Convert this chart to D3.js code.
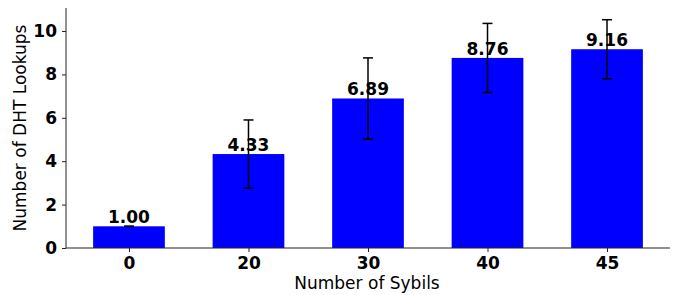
<!DOCTYPE html>
<head>
<meta charset="utf-8">
<style>
  body { margin: 0; background: #fff; }
  text { font-family: "DejaVu Sans", sans-serif; }
</style>
</head>
<body>
<script src="https://d3js.org/d3.v7.min.js"></script>
<script>
// chart data
var sybils = ["0", "20", "30", "40", "45"];
var lookups = [1.00, 4.33, 6.89, 8.76, 9.16];
var errors = [0.0, 1.57, 1.87, 1.59, 1.36];
var yTicks = [0, 2, 4, 6, 8, 10];

var W = 684, H = 295;
var margin = {top: 8, right: 14, bottom: 47, left: 66};
var width = W - margin.left - margin.right,
    height = H - margin.top - margin.bottom;

var svg = d3.select("body").append("svg")
    .attr("width", W).attr("height", H)
  .append("g")
    .attr("transform", "translate(" + margin.left + "," + margin.top + ")");

// x: positions 0..n-1, bar width 0.6, matplotlib-like margins
var idx = d3.range(sybils.length);
var x = d3.scaleLinear().domain([-0.527, 4.527]).range([0, width]);
var y = d3.scaleLinear().domain([0, 11.06]).range([height, 0]);
var bw = x(0.6) - x(0);

// bars
svg.selectAll(".bar").data(idx).enter().append("rect")
    .attr("x", function(i) { return x(i - 0.3); })
    .attr("y", function(i) { return y(lookups[i]); })
    .attr("width", bw)
    .attr("height", function(i) { return y(0) - y(lookups[i]); })
    .attr("fill", "#0000ff");

// error bars
var eb = svg.selectAll(".err").data(idx).enter().append("g")
    .attr("stroke", "#000").attr("stroke-width", 1.5);
eb.append("line")
    .attr("x1", function(i) { return x(i); }).attr("x2", function(i) { return x(i); })
    .attr("y1", function(i) { return y(lookups[i] - errors[i]); })
    .attr("y2", function(i) { return y(lookups[i] + errors[i]); });
[-1, 1].forEach(function(s) {
  eb.append("line")
      .attr("x1", function(i) { return x(i) - 5; }).attr("x2", function(i) { return x(i) + 5; })
      .attr("y1", function(i) { return y(lookups[i] + s * errors[i]); })
      .attr("y2", function(i) { return y(lookups[i] + s * errors[i]); });
});

// value labels
svg.selectAll(".lbl").data(idx).enter().append("text")
    .attr("x", function(i) { return x(i); })
    .attr("y", function(i) { return y(lookups[i]) - 3; })
    .attr("text-anchor", "middle")
    .style("font-size", "17px").style("font-weight", "bold")
    .text(function(i) { return lookups[i].toFixed(2); });

// axes
var xAxis = svg.append("g")
    .attr("transform", "translate(0," + height + ")")
    .call(d3.axisBottom(x).tickValues(idx).tickSize(4).tickPadding(5)
        .tickFormat(function(i) { return sybils[i]; }));
var yAxis = svg.append("g")
    .call(d3.axisLeft(y).tickValues(yTicks).tickSize(4).tickPadding(5));

[xAxis, yAxis].forEach(function(a) {
  a.select(".domain").attr("stroke", "#222").attr("stroke-width", 1);
  a.selectAll(".tick line").attr("stroke", "#222");
  a.selectAll(".tick text")
      .style("font-size", "17px").style("font-weight", "bold")
      .style("font-family", "DejaVu Sans").attr("fill", "#000");
});
xAxis.select(".domain").attr("d", "M0,0H" + width);
yAxis.select(".domain").attr("d", "M0," + height + "V0");

// axis titles
svg.append("text")
    .attr("x", width / 2 - 1).attr("y", height + 41)
    .attr("text-anchor", "middle")
    .style("font-size", "17px")
    .text("Number of Sybils");
svg.append("text")
    .attr("transform", "translate(" + (-40) + "," + (height / 2) + ") rotate(-90)")
    .attr("text-anchor", "middle")
    .style("font-size", "17px")
    .text("Number of DHT Lookups");
</script>
</body>
